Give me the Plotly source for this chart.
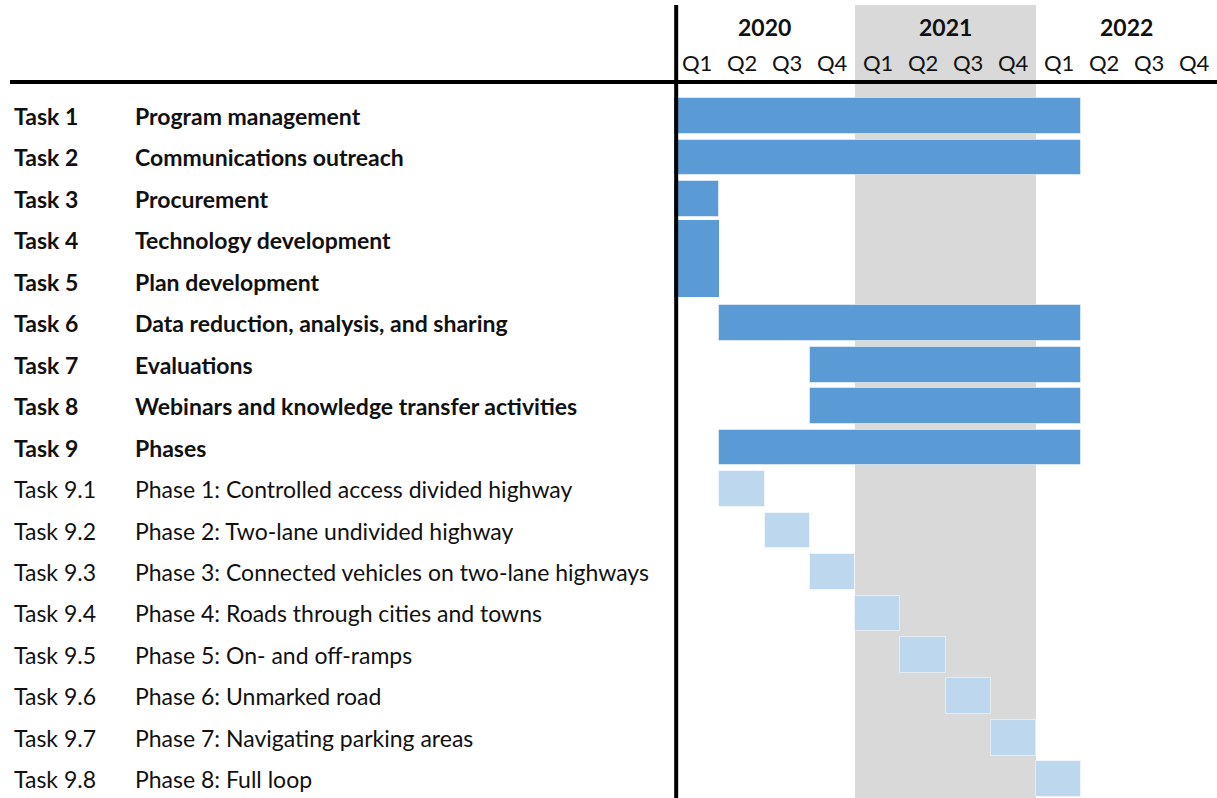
import plotly.graph_objects as go

task_ids = ["Task 1", "Task 2", "Task 3", "Task 4", "Task 5", "Task 6", "Task 7", "Task 8", "Task 9",
            "Task 9.1", "Task 9.2", "Task 9.3", "Task 9.4", "Task 9.5", "Task 9.6", "Task 9.7", "Task 9.8"]
task_names = ["Program management", "Communications outreach", "Procurement", "Technology development",
              "Plan development", "Data reduction, analysis, and sharing", "Evaluations",
              "Webinars and knowledge transfer activities", "Phases",
              "Phase 1: Controlled access divided highway", "Phase 2: Two-lane undivided highway",
              "Phase 3: Connected vehicles on two-lane highways", "Phase 4: Roads through cities and towns",
              "Phase 5: On- and off-ramps", "Phase 6: Unmarked road", "Phase 7: Navigating parking areas",
              "Phase 8: Full loop"]
# start quarter index (0 = Q1 2020) and duration in quarters
starts = [0, 0, 0, 0, 0, 1, 3, 3, 1, 1, 2, 3, 4, 5, 6, 7, 8]
durations = [9, 9, 1, 1, 1, 8, 6, 6, 8, 1, 1, 1, 1, 1, 1, 1, 1]
is_main = [True] * 9 + [False] * 8

years = ["2020", "2021", "2022"]
quarters = ["Q1", "Q2", "Q3", "Q4"]

W, H = 1217, 798
L, T = 674, 82
plot_w = W - L
plot_h = H - T
pitch = 41.45
top_off = (116 - T) / pitch

DARK = "#5B9BD5"
LIGHT = "#BDD7EE"
SHADE = "#D9D9D9"
FONT = "Lato"
TXT = "#111111"

rows = list(range(len(task_ids)))
bar_w = [0.86] * len(rows)
bar_off = [-0.43] * len(rows)
edge_w = [1] * len(rows)
# Task 4 and Task 5 blocks touch each other in the reference
bar_w[3], bar_off[3], edge_w[3] = 0.99, -0.49, 0
bar_w[4], bar_off[4], edge_w[4] = 0.87, -0.5, 0

fig = go.Figure()
fig.add_trace(go.Bar(
    y=rows, x=durations, base=starts, orientation="h",
    width=bar_w, offset=bar_off,
    marker=dict(color=[DARK if m else LIGHT for m in is_main],
                line=dict(color="rgba(255,255,255,0.5)", width=edge_w)),
    hoverinfo="skip", showlegend=False,
))

n_q = len(years) * len(quarters)

shapes = []
shapes.append(dict(type="rect", xref="x", yref="paper", x0=4, x1=8, y0=0, y1=1 + (T - 5) / plot_h,
                   fillcolor=SHADE, line=dict(width=0), layer="below"))
shapes.append(dict(type="line", xref="paper", yref="paper", x0=(10 - L) / plot_w, x1=1,
                   y0=1, y1=1, line=dict(color="black", width=4)))
shapes.append(dict(type="line", xref="paper", yref="paper", x0=0.004, x1=0.004,
                   y0=0, y1=1 + (T - 5) / plot_h, line=dict(color="black", width=4)))

annotations = []
for i, yr in enumerate(years):
    annotations.append(dict(xref="x", yref="paper", x=i * 4 + 2, y=1 + (T - 27) / plot_h,
                            text="<b>" + yr + "</b>", showarrow=False, xanchor="center", yanchor="middle",
                            font=dict(family=FONT, size=23, color=TXT)))
    for j, q in enumerate(quarters):
        annotations.append(dict(xref="x", yref="paper", x=i * 4 + j + 0.5, y=1 + (T - 63) / plot_h,
                                text=q, showarrow=False, xanchor="center", yanchor="middle",
                                font=dict(family=FONT, size=22, color=TXT)))

for r, (tid, name, m) in enumerate(zip(task_ids, task_names, is_main)):
    t1 = "<b>" + tid + "</b>" if m else tid
    t2 = "<b>" + name + "</b>" if m else name
    annotations.append(dict(xref="paper", yref="y", x=(12 - L) / plot_w, y=r, text=t1, showarrow=False,
                            xanchor="left", yanchor="middle", font=dict(family=FONT, size=23, color=TXT)))
    annotations.append(dict(xref="paper", yref="y", x=(133 - L) / plot_w, y=r, text=t2, showarrow=False,
                            xanchor="left", yanchor="middle", font=dict(family=FONT, size=23, color=TXT)))

fig.update_layout(
    width=W, height=H,
    margin=dict(l=L, r=0, t=T, b=0, pad=0),
    paper_bgcolor="white", plot_bgcolor="rgba(0,0,0,0)",
    xaxis=dict(range=[0, n_q], showgrid=False, zeroline=False, showticklabels=False, ticks="",
               fixedrange=True),
    yaxis=dict(range=[-top_off + plot_h / pitch, -top_off], showgrid=False, zeroline=False,
               showticklabels=False, ticks="", fixedrange=True),
    shapes=shapes, annotations=annotations, bargap=0,
)

fig.write_html("out.html", config={"displayModeBar": False},
               post_script="document.body.style.margin='0';document.body.style.overflow='hidden';")
